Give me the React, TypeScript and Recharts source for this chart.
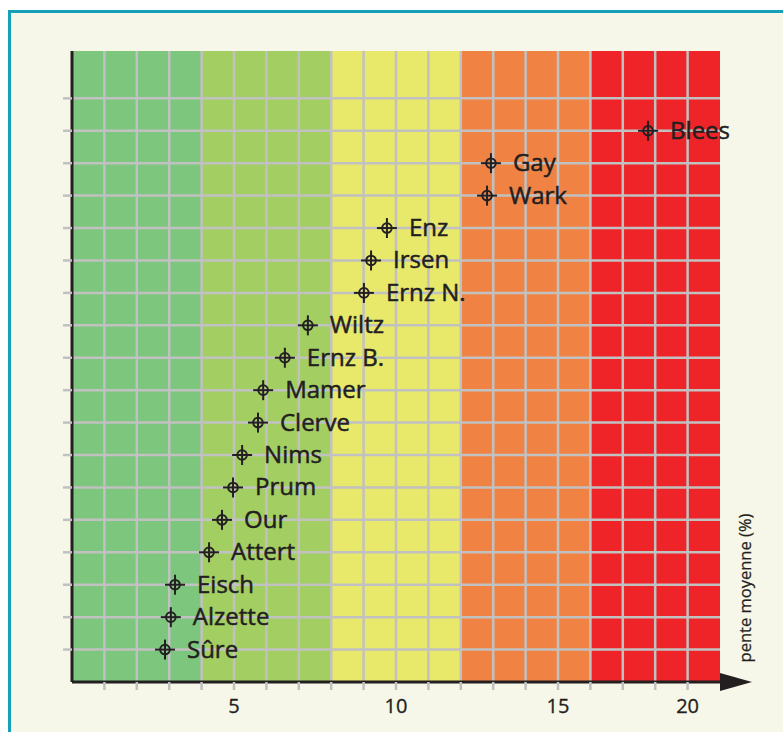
import { ScatterChart, Scatter, XAxis, YAxis, ReferenceArea, ReferenceLine } from "recharts"

const rivers = ["Sûre", "Alzette", "Eisch", "Attert", "Our", "Prum", "Nims", "Clerve", "Mamer", "Ernz B.", "Wiltz", "Ernz N.", "Irsen", "Enz", "Wark", "Gay", "Blees"]
const slopes = [2.87, 3.05, 3.18, 4.23, 4.63, 4.97, 5.25, 5.74, 5.9, 6.57, 7.28, 9.01, 9.23, 9.72, 12.81, 12.93, 17.78]
const rows = [1, 2, 3, 4, 5, 6, 7, 8, 9, 10, 11, 12, 13, 14, 15, 16, 17]

const xGrid = [1, 2, 3, 4, 5, 6, 7, 8, 9, 10, 11, 12, 13, 14, 15, 16, 17, 18, 19]
const yGrid = [1, 2, 3, 4, 5, 6, 7, 8, 9, 10, 11, 12, 13, 14, 15, 16, 17, 18]
const xLabelAt = [5, 10, 15, 19]
const xLabels = ["5", "10", "15", "20"]

const bandStarts = [0, 4, 8, 12, 16]
const bandEnds = [4, 8, 12, 16, 20]
const bandColors = ["#7dc67e", "#a3ce62", "#e8e86a", "#f08343", "#ee2429"]

const data = rivers.map((name, i) => ({ name, x: slopes[i], y: rows[i] }))

const ink = "#231f20"
const gridGray = "#c1c1c1"
const font = "'Open Sans', sans-serif"

function Crosshair(props: any) {
  const { cx, cy, payload } = props
  return (
    <g>
      <circle cx={cx} cy={cy} r={4.8} fill="none" stroke={ink} strokeWidth={2} />
      <line x1={cx - 10} x2={cx + 10} y1={cy} y2={cy} stroke={ink} strokeWidth={2} />
      <line x1={cx} x2={cx} y1={cy - 10} y2={cy + 10} stroke={ink} strokeWidth={2} />
      <text x={cx + 22} y={cy + 8} fontSize={24} fill={ink} stroke={ink} strokeWidth={0.5} fontFamily={font}>
        {payload.name}
      </text>
    </g>
  )
}

function AxisTitle(props: any) {
  const { viewBox } = props
  const x = viewBox.x + 24
  const y = viewBox.y + viewBox.height - 94
  return (
    <text
      x={x}
      y={y}
      transform={`rotate(-90 ${x} ${y})`}
      textAnchor="middle"
      dominantBaseline="central"
      fontSize={16.5}
      fill={ink}
      stroke={ink}
      strokeWidth={0.25}
      fontFamily={font}
    >
      pente moyenne (%)
    </text>
  )
}

export default function App() {
  return (
    <div style={{ position: "absolute", left: 0, top: 0, width: 783, height: 732, background: "#fff", overflow: "hidden", fontFamily: font }}>
      <div
        style={{
          position: "absolute",
          left: 8,
          top: 10,
          width: 820,
          height: 800,
          border: "3px solid #16a0b7",
          background: "#f7f7e9",
        }}
      />
      <div style={{ position: "absolute", left: 0, top: 0 }}>
        <ScatterChart width={783} height={732} margin={{ top: 47, right: 33, bottom: 10, left: 63 }}>
          <defs>
            <marker id="arrowHead" markerUnits="userSpaceOnUse" markerWidth={32} markerHeight={18} refX={0} refY={9} orient="auto">
              <path d="M0,0 L32,9 L0,18 Z" fill={ink} />
            </marker>
          </defs>
          {bandStarts.map((s, i) => (
            <ReferenceArea key={`band-${i}`} x1={s} x2={bandEnds[i]} fill={bandColors[i]} fillOpacity={1} stroke="none" />
          ))}
          {xGrid.map((v) => (
            <ReferenceLine key={`vx-${v}`} x={v} stroke={gridGray} strokeWidth={2.5} />
          ))}
          {yGrid.map((v) => (
            <ReferenceLine key={`hy-${v}`} y={v} stroke={gridGray} strokeWidth={2.5} />
          ))}
          <XAxis
            type="number"
            dataKey="x"
            domain={[0, 20]}
            ticks={xGrid}
            interval={0}
            height={40}
            tickSize={8}
            tickMargin={9}
            tickFormatter={(v) => {
              const k = xLabelAt.indexOf(v)
              return k >= 0 ? xLabels[k] : ""
            }}
            tick={{ fill: ink, stroke: ink, strokeWidth: 0.3, fontSize: 20, fontFamily: font }}
            tickLine={{ stroke: gridGray, strokeWidth: 2.5 }}
            axisLine={{ stroke: ink, strokeWidth: 3, markerEnd: "url(#arrowHead)" }}
          />
          <XAxis
            xAxisId="top"
            orientation="top"
            type="number"
            domain={[0, 20]}
            ticks={xGrid}
            interval={0}
            height={4}
            tickSize={4}
            tickMargin={0}
            tickFormatter={() => ""}
            tickLine={{ stroke: gridGray, strokeWidth: 2.5 }}
            axisLine={false}
          />
          <YAxis
            type="number"
            dataKey="y"
            domain={[0, 19.46]}
            ticks={yGrid}
            interval={0}
            width={9}
            tickSize={9}
            tickMargin={0}
            tickFormatter={() => ""}
            tickLine={{ stroke: gridGray, strokeWidth: 2.5 }}
            axisLine={{ stroke: ink, strokeWidth: 3 }}
          />
          <YAxis
            yAxisId="right"
            orientation="right"
            type="number"
            domain={[0, 19.46]}
            ticks={yGrid}
            interval={0}
            width={30}
            tickSize={6}
            tickMargin={0}
            tickFormatter={() => ""}
            tickLine={{ stroke: gridGray, strokeWidth: 2.5 }}
            axisLine={false}
            label={<AxisTitle />}
          />
          <Scatter data={data} shape={<Crosshair />} isAnimationActive={false} />
        </ScatterChart>
      </div>
    </div>
  )
}
